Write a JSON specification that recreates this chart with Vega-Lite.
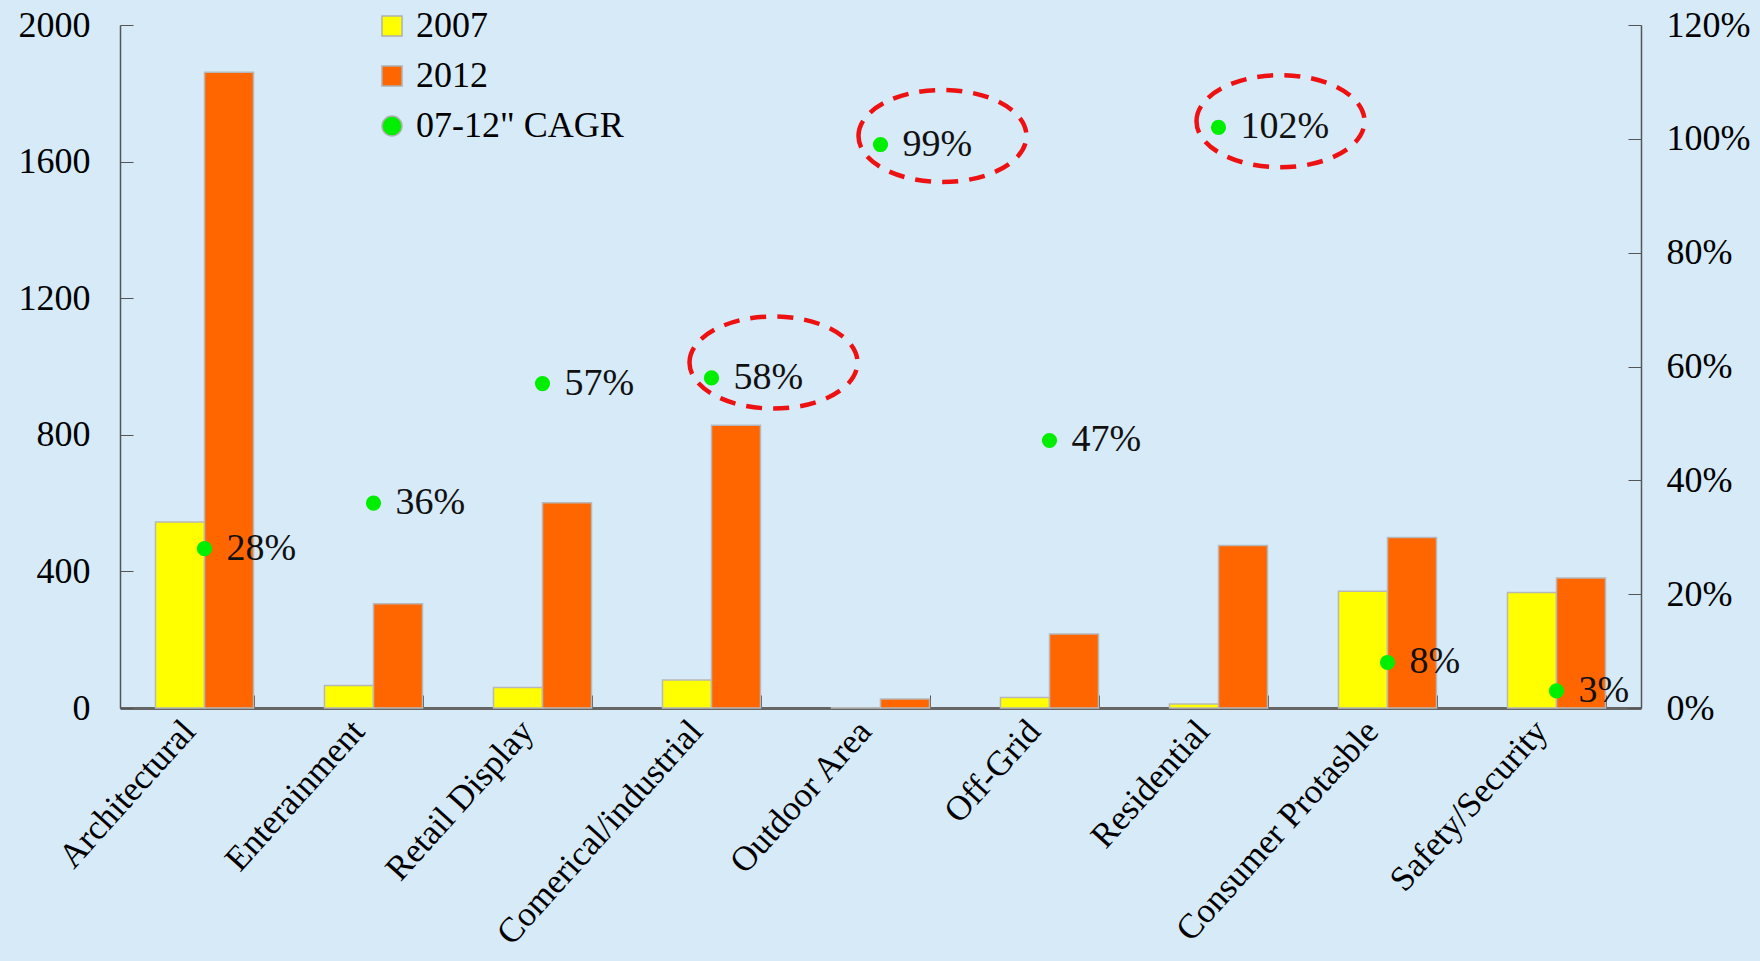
{
  "$schema": "https://vega.github.io/schema/vega-lite/v6.json",
  "autosize": "none",
  "width": 1521,
  "height": 683,
  "padding": {"left": 120, "top": 25, "right": 119, "bottom": 253},
  "background": "#d6eaf8",
  "config": {
    "view": {"stroke": null},
    "font": "Liberation Serif",
    "axis": {"labelFont": "Liberation Serif", "labelColor": "#000", "domainColor": "#555", "tickColor": "#555", "grid": false, "title": null}
  },
  "datasets": {
    "bars": [
      {"category": "Architectural", "series": "2007", "value": 545},
      {"category": "Architectural", "series": "2012", "value": 1862},
      {"category": "Enterainment", "series": "2007", "value": 66},
      {"category": "Enterainment", "series": "2012", "value": 305},
      {"category": "Retail Display", "series": "2007", "value": 60},
      {"category": "Retail Display", "series": "2012", "value": 601},
      {"category": "Comerical/industrial", "series": "2007", "value": 82},
      {"category": "Comerical/industrial", "series": "2012", "value": 828},
      {"category": "Outdoor Area", "series": "2007", "value": 0.8},
      {"category": "Outdoor Area", "series": "2012", "value": 26},
      {"category": "Off-Grid", "series": "2007", "value": 31},
      {"category": "Off-Grid", "series": "2012", "value": 217},
      {"category": "Residential", "series": "2007", "value": 12},
      {"category": "Residential", "series": "2012", "value": 476},
      {"category": "Consumer Protasble", "series": "2007", "value": 342},
      {"category": "Consumer Protasble", "series": "2012", "value": 499},
      {"category": "Safety/Security", "series": "2007", "value": 338},
      {"category": "Safety/Security", "series": "2012", "value": 381}
    ],
    "cagr": [
      {"category": "Architectural", "series": "07-12\" CAGR", "cagr": 28, "label": "28%"},
      {"category": "Enterainment", "series": "07-12\" CAGR", "cagr": 36, "label": "36%"},
      {"category": "Retail Display", "series": "07-12\" CAGR", "cagr": 57, "label": "57%"},
      {"category": "Comerical/industrial", "series": "07-12\" CAGR", "cagr": 58, "label": "58%"},
      {"category": "Outdoor Area", "series": "07-12\" CAGR", "cagr": 99, "label": "99%"},
      {"category": "Off-Grid", "series": "07-12\" CAGR", "cagr": 47, "label": "47%"},
      {"category": "Residential", "series": "07-12\" CAGR", "cagr": 102, "label": "102%"},
      {"category": "Consumer Protasble", "series": "07-12\" CAGR", "cagr": 8, "label": "8%"},
      {"category": "Safety/Security", "series": "07-12\" CAGR", "cagr": 3, "label": "3%"}
    ],
    "highlights": [
      {"category": "Comerical/industrial", "cagr": 60.7},
      {"category": "Outdoor Area", "cagr": 100.5},
      {"category": "Residential", "cagr": 103.1}
    ]
  },
  "encoding": {
    "x": {
      "field": "category", "type": "nominal", "sort": null,
      "scale": {"paddingInner": 0.42, "paddingOuter": 0.21},
      "axis": {
        "labelAngle": -48, "labelAlign": "right", "labelBaseline": "middle",
        "labelFontSize": 35, "labelPadding": 30, "labelOffset": -16, "tickBand": "extent",
        "tickSize": -13, "domainWidth": 3, "domainColor": "#666", "labelLimit": 400
      }
    }
  },
  "layer": [
    {
      "data": {"name": "bars"},
      "mark": {"type": "bar", "stroke": "#b8b8b8", "strokeWidth": 1.5},
      "encoding": {
        "xOffset": {"field": "series", "type": "nominal", "scale": {"paddingInner": 0, "paddingOuter": 0}},
        "y": {
          "field": "value", "type": "quantitative",
          "scale": {"domain": [0, 2000], "nice": false},
          "axis": {"orient": "left", "values": [0, 400, 800, 1200, 1600, 2000], "format": "d", "labelFontSize": 36, "tickSize": -13, "labelPadding": 43, "domainWidth": 1.5}
        },
        "color": {
          "field": "series", "type": "nominal",
          "scale": {"domain": ["2007", "2012", "07-12\" CAGR"], "range": ["#ffff00", "#ff6600", "#00ee00"]},
          "legend": {
            "orient": "none", "legendX": 254, "legendY": -17, "title": null,
            "labelFontSize": 36, "labelFont": "Liberation Serif", "labelLimit": 600, "symbolSize": 400,
            "symbolStrokeColor": "#b0b0b0", "symbolStrokeWidth": 1.5, "rowPadding": 14, "labelOffset": 6
          }
        }
      }
    },
    {
      "data": {"name": "cagr"},
      "mark": {"type": "point", "filled": true, "size": 230, "opacity": 1},
      "encoding": {
        "y": {
          "field": "cagr", "type": "quantitative",
          "scale": {"domain": [0, 120], "nice": false},
          "axis": {"orient": "right", "values": [0, 20, 40, 60, 80, 100, 120], "labelExpr": "datum.value + '%'", "labelFontSize": 36, "tickSize": -13, "labelPadding": 38, "domainWidth": 1.5}
        },
        "color": {"field": "series", "type": "nominal"},
        "shape": {
          "field": "series", "type": "nominal",
          "scale": {"domain": ["2007", "2012", "07-12\" CAGR"], "range": ["square", "square", "circle"]}
        }
      }
    },
    {
      "data": {"name": "cagr"},
      "mark": {"type": "text", "align": "left", "baseline": "middle", "dx": 22, "fontSize": 38, "font": "Liberation Serif", "color": "#111"},
      "encoding": {
        "y": {"field": "cagr", "type": "quantitative", "scale": {"domain": [0, 120], "nice": false}, "axis": null},
        "text": {"field": "label"}
      }
    },
    {
      "data": {"name": "highlights"},
      "mark": {
        "type": "point", "filled": false, "shape": "M-0.262,0A1,0.548,0,1,1,1.738,0A1,0.548,0,1,1,-0.262,0Z",
        "size": 28224, "stroke": "#ee1111", "strokeWidth": 4.5, "strokeDash": [16, 11], "opacity": 1
      },
      "encoding": {
        "y": {"field": "cagr", "type": "quantitative", "scale": {"domain": [0, 120], "nice": false}, "axis": null}
      }
    }
  ],
  "resolve": {"scale": {"y": "independent"}, "axis": {"y": "independent"}}
}
